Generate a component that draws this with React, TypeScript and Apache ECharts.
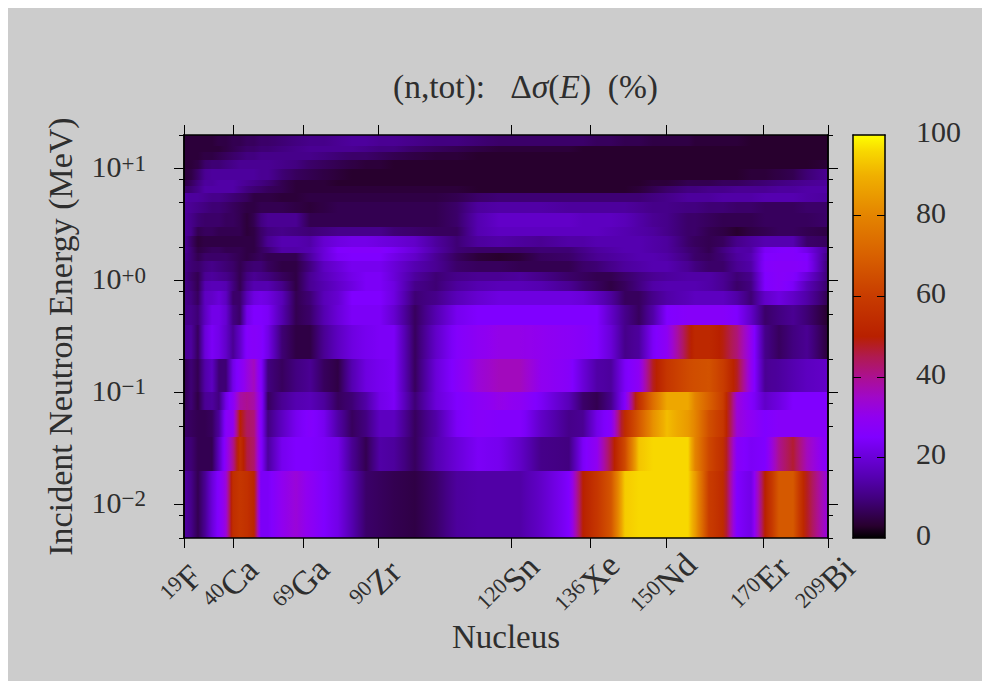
import React, { useEffect, useRef } from "react";
import * as echarts from "echarts";

const FONT = "'Liberation Serif', serif";
const INK = "#2e2e2e";

const energyEdges = [0.005, 0.02, 0.04, 0.07, 0.1, 0.2, 0.4, 0.6, 0.8, 1, 1.2, 1.5, 1.75, 2, 2.5, 3, 4, 5, 6, 7, 8, 10, 12, 14, 16, 20];
const nucleusIndex = [0, 1, 2, 3, 4, 5, 6, 7, 8, 9, 10, 11, 12, 14, 16, 18, 20, 22, 24, 26, 28, 30, 33, 36, 39, 42, 45, 48, 51, 55, 57, 59, 61, 63, 65, 67, 69, 72, 73, 75, 77, 79, 81, 83, 85, 87, 89, 92];
const nucleusTicks = [0, 7, 17.1, 27.7, 46.7, 58, 68.9, 82.7, 92];
const nucleusMass = ["19", "40", "69", "90", "120", "136", "150", "170", "209"];
const nucleusSymbol = ["F", "Ca", "Ga", "Zr", "Sn", "Xe", "Nd", "Er", "Bi"];
const energyMajor = [0.01, 0.1, 1, 10];
const energyMajorText = ["−2", "−1", "+0", "+1"];
const energyMinor = [0.005, 0.008, 0.02, 0.05, 0.08, 0.2, 0.5, 0.8, 2, 5, 8, 20];
const colorbarTicks = [0, 20, 40, 60, 80, 100];

const paletteValues = [0, 3, 10, 15, 20, 25, 30, 35, 40, 45, 50, 60, 70, 80, 90, 96, 100];
const paletteColors = ["#000000", "#28002e", "#420080", "#5500b0", "#6a00d8", "#8000ff", "#9000f0", "#a008c8", "#ac1090", "#b01a50", "#b82000", "#c83c00", "#d86000", "#e48400", "#f0b000", "#f8d800", "#ffff00"];

// rows from the lowest energy band to the highest
const dsigma = [
  [14,11,6,12,20,26,33,55,58,56,52,24,24,30,33,29,25,22,15,8,7,6,5,8,13,14,14, 14,18,25,50,58,67,94,96,96,96,96,86,60,54,25,22,50,68,68,48,32],
  [10,9,6,6,6,17,29,40,55,46,43,26,13,23,25,25,24,22,12,6,14,13,7,15,20,24,23, 18,11,10,24,30,46,64,93,96,96,96,80,63,55,27,24,25,40,47,36,26],
  [8,7,6,6,7,13,27,30,50,44,42,26,10,17,23,26,23,14,7,10,17,17,7,14,24,27,26, 26,18,11,12,22,27,54,68,83,92,85,80,65,58,33,29,25,27,27,27,27],
  [6,9,5,12,13,10,22,28,38,40,38,28,7,12,15,16,13,7,9,14,22,24,9,20,25,28,31, 29,24,16,8,6,11,26,56,74,88,88,80,70,60,33,26,18,21,25,25,25],
  [6,9,6,14,17,9,9,22,27,32,36,26,10,7,10,12,7,5,15,21,23,24,7,20,27,33,36, 36,30,27,20,14,13,24,29,48,58,64,65,66,60,48,30,12,13,15,17,18],
  [12,13,7,20,24,22,18,12,18,26,27,26,22,9,5,5,12,17,21,23,24,24,7,18,26,29,31, 31,30,28,27,25,20,11,13,24,29,48,53,53,49,42,30,11,7,10,12,4],
  [11,11,9,17,22,22,19,10,8,22,25,25,24,15,6,8,15,20,24,24,24,19,7,15,23,25,25, 25,25,25,25,25,18,11,7,14,25,27,27,27,27,25,18,8,10,12,9,3],
  [11,10,7,17,18,20,17,8,8,16,21,22,21,16,6,9,16,19,25,25,25,21,9,11,16,19,21, 21,21,21,20,17,13,7,7,11,14,16,17,17,17,14,9,18,21,18,14,6],
  [11,9,6,15,16,16,15,10,6,12,15,15,15,11,5,12,15,18,21,24,24,21,11,9,13,15,16, 16,15,12,9,7,5,7,10,14,15,15,15,14,12,8,10,25,27,24,16,8],
  [11,8,6,12,13,12,11,9,6,10,12,11,10,7,5,12,16,19,22,24,24,20,13,9,11,12,12, 13,11,8,7,6,6,8,10,12,13,14,14,14,12,9,11,25,27,26,20,9],
  [11,9,8,10,11,10,9,8,6,8,9,9,7,5,5,10,17,20,23,23,23,20,15,12,8,7,7, 6,6,6,8,9,11,13,14,15,15,12,10,8,8,12,14,26,27,27,26,9],
  [12,9,6,8,8,8,8,7,6,5,6,7,6,6,6,13,20,24,25,25,25,22,18,12,7,4,3, 4,7,8,10,12,13,14,15,15,14,10,8,7,9,13,15,25,26,26,25,10],
  [13,9,5,6,7,7,6,6,6,5,5,7,9,14,14,15,20,25,26,26,26,24,20,14,9,8,8, 8,9,9,11,13,14,15,15,14,13,9,8,6,10,14,14,24,25,26,22,12],
  [13,8,4,5,5,5,5,5,5,5,5,8,12,15,15,14,19,21,22,22,21,20,18,13,9,13,14, 13,12,14,14,15,15,15,15,14,13,8,7,6,7,11,13,15,15,15,8,7],
  [13,11,6,7,7,6,6,6,6,4,5,8,10,11,10,9,10,11,11,11,11,9,8,7,7,15,17, 17,17,17,17,17,16,15,14,13,11,8,8,6,5,3,5,6,7,7,6,5],
  [13,11,9,8,8,8,7,7,6,4,6,10,12,12,12,6,6,6,6,6,6,6,6,6,8,15,18, 18,18,18,17,17,17,16,14,12,11,8,8,7,6,6,6,7,7,7,7,8],
  [13,12,11,10,9,9,8,7,6,5,5,6,6,6,5,4,5,6,6,6,6,6,6,6,8,13,14, 14,14,13,13,13,13,13,12,11,11,10,10,9,9,8,8,7,7,7,8,8],
  [14,13,13,12,11,11,10,9,8,7,5,5,5,4,4,5,5,5,5,5,5,5,5,5,6,8,9, 9,9,9,9,9,9,9,9,10,11,13,13,13,14,14,14,15,15,15,14,13],
  [8,9,11,14,14,14,14,14,12,10,9,8,7,6,4,4,4,4,4,4,4,4,4,4,4,3,3, 3,3,3,3,3,3,3,4,6,8,10,10,11,11,12,12,12,13,13,14,14],
  [5,7,10,13,13,14,14,14,13,12,11,10,9,6,4,4,4,3,3,3,3,3,3,3,3,3,3, 3,3,3,3,3,3,3,3,4,4,6,6,6,7,7,8,9,10,11,12,13],
  [4,5,8,12,13,13,13,13,13,13,13,12,12,9,7,6,5,4,3,3,3,3,3,3,3,3,3, 3,3,3,3,3,3,3,3,3,3,3,3,3,3,3,4,4,5,6,9,12],
  [4,4,5,8,9,9,10,11,12,12,12,12,12,11,10,8,7,6,5,4,4,3,3,3,3,3,3, 3,3,3,3,3,3,3,3,3,3,3,3,3,3,3,3,3,3,3,3,4],
  [4,4,4,5,5,6,7,8,9,10,10,11,11,11,11,11,10,9,8,8,7,6,5,4,4,3,3, 3,3,3,3,3,3,3,3,3,3,3,3,3,3,3,3,3,3,3,3,3],
  [4,4,4,4,4,4,5,6,7,8,8,9,9,10,11,12,12,12,12,11,10,10,8,7,6,5,4, 4,4,4,3,3,3,3,3,3,3,3,3,3,3,3,3,3,3,3,3,3],
  [4,4,4,4,4,5,5,6,6,7,7,8,8,9,10,11,11,12,13,13,12,12,11,10,10,9,8, 8,8,8,8,7,7,6,6,5,5,5,4,4,4,4,3,3,3,3,3,3],
];

function hexToRgb(h: string) {
  return [1, 3, 5].map((i) => parseInt(h.slice(i, i + 2), 16));
}
function colorOf(v: number) {
  const n = paletteValues.length;
  if (v <= paletteValues[0]) return paletteColors[0];
  for (let i = 1; i < n; i++) {
    if (v <= paletteValues[i]) {
      const t = (v - paletteValues[i - 1]) / (paletteValues[i] - paletteValues[i - 1]);
      const a = hexToRgb(paletteColors[i - 1]);
      const b = hexToRgb(paletteColors[i]);
      return `rgb(${a.map((c, k) => Math.round(c + (b[k] - c) * t)).join(",")})`;
    }
  }
  return paletteColors[n - 1];
}

const xMax = nucleusIndex[nucleusIndex.length - 1];

function rowStops(row: number[]) {
  const stops: { offset: number; color: string }[] = [];
  for (let i = 0; i < row.length - 1; i++) {
    for (let k = 0; k < 4; k++) {
      const f = k / 4;
      stops.push({
        offset: (nucleusIndex[i] + (nucleusIndex[i + 1] - nucleusIndex[i]) * f) / xMax,
        color: colorOf(row[i] + (row[i + 1] - row[i]) * f),
      });
    }
  }
  stops.push({ offset: 1, color: colorOf(row[row.length - 1]) });
  return stops;
}

const tickStyle = { lineStyle: { color: "#000", width: 1 } };
const lineStyle = { show: true, onZero: false, lineStyle: { color: "#000", width: 1.5 } };

export default function App() {
  const ref = useRef<HTMLDivElement>(null);
  useEffect(() => {
    const chart = echarts.init(ref.current!, undefined, { renderer: "svg" });
    const grid = { left: 176, top: 127, width: 644, height: 403 };
    const cbGrid = { left: 845, top: 127, width: 32, height: 403 };
    const yLog = { type: "log", logBase: 10, min: 0.005, max: 20, gridIndex: 0, splitLine: { show: false }, minorTick: { show: false }, axisLine: lineStyle, z: 5 };
    const xBase = { type: "value", min: 0, max: xMax, gridIndex: 0, splitLine: { show: false }, axisLine: lineStyle, z: 5 };
    chart.setOption({
      animation: false,
      backgroundColor: "#cccccc",
      title: {
        text: "(n,tot):   Δ{i|σ}({i|E})  (%)",
        left: 380,
        top: 56,
        textStyle: {
          fontFamily: FONT,
          fontSize: 33.5,
          fontWeight: "normal",
          color: INK,
          rich: { i: { fontFamily: FONT, fontSize: 33.5, fontStyle: "italic", color: INK } },
        },
      },
      grid: [grid, cbGrid],
      xAxis: [
        {
          ...xBase,
          position: "bottom",
          name: "Nucleus",
          nameLocation: "middle",
          nameMoveOverlap: false,
          nameGap: 82,
          nameTextStyle: { fontFamily: FONT, fontSize: 33, color: INK },
          axisTick: { show: true, length: 10, customValues: nucleusTicks, ...tickStyle },
          axisLabel: {
            show: true,
            rotate: 45,
            margin: 45,
            align: "center",
            verticalAlign: "middle",
            customValues: nucleusTicks,
            formatter: (v: number) => {
              const i = nucleusTicks.indexOf(v);
              return `{s|${nucleusMass[i]}}{m|${nucleusSymbol[i]}}`;
            },
            rich: {
              s: { fontFamily: FONT, fontSize: 22, color: INK, verticalAlign: "top", padding: [0, 0, 0, 0] },
              m: { fontFamily: FONT, fontSize: 34, color: INK, padding: [0, 6, 0, 0] },
            },
          },
        },
        {
          ...xBase,
          position: "top",
          axisTick: { show: true, length: 10, customValues: nucleusTicks, ...tickStyle },
          axisLabel: { show: false },
        },
        { type: "value", min: 0, max: 1, gridIndex: 1, position: "bottom", splitLine: { show: false }, axisLine: lineStyle, axisTick: { show: false }, axisLabel: { show: false }, z: 5 },
        { type: "value", min: 0, max: 1, gridIndex: 1, position: "top", splitLine: { show: false }, axisLine: lineStyle, axisTick: { show: false }, axisLabel: { show: false }, z: 5 },
      ],
      yAxis: [
        {
          ...yLog,
          position: "left",
          name: "Incident Neutron Energy (MeV)",
          nameLocation: "middle",
          nameMoveOverlap: false,
          nameGap: 107,
          nameTextStyle: { fontFamily: FONT, fontSize: 34, color: INK },
          axisTick: { show: true, length: 10, customValues: energyMajor, ...tickStyle },
          axisLabel: {
            show: true,
            margin: 38,
            customValues: energyMajor,
            formatter: (v: number) => {
              const i = energyMajor.findIndex((e) => Math.abs(Math.log10(e) - Math.log10(v)) < 1e-6);
              return `{m|10}{s|${energyMajorText[i]}}`;
            },
            rich: {
              m: { fontFamily: FONT, fontSize: 30, color: INK, verticalAlign: "bottom", padding: [0, 0, 4, 0] },
              s: { fontFamily: FONT, fontSize: 23, color: INK, verticalAlign: "top" },
            },
          },
        },
        { ...yLog, position: "left", axisTick: { show: true, length: 5, customValues: energyMinor, ...tickStyle }, axisLabel: { show: false } },
        { ...yLog, position: "right", axisTick: { show: true, length: 10, customValues: energyMajor, ...tickStyle }, axisLabel: { show: false } },
        { ...yLog, position: "right", axisTick: { show: true, length: 5, customValues: energyMinor, ...tickStyle }, axisLabel: { show: false } },
        { type: "value", min: 0, max: 100, gridIndex: 1, position: "left", splitLine: { show: false }, axisLine: lineStyle, axisTick: { show: true, inside: true, length: 8, customValues: colorbarTicks.slice(1, -1), ...tickStyle }, axisLabel: { show: false }, z: 5 },
        {
          type: "value",
          min: 0,
          max: 100,
          interval: 20,
          gridIndex: 1,
          position: "right",
          splitLine: { show: false },
          axisLine: lineStyle,
          axisTick: { show: true, inside: true, length: 8, customValues: colorbarTicks.slice(1, -1), ...tickStyle },
          axisLabel: {
            show: true,
            margin: 31,
            customValues: colorbarTicks,
            showMinLabel: true,
            showMaxLabel: true,
            formatter: (v: number) => `{n|${v}}`,
            rich: { n: { fontFamily: FONT, fontSize: 30, color: INK, padding: [0, 0, 7, 0] } },
          },
          z: 5,
        },
      ],
      series: [
        {
          type: "custom",
          xAxisIndex: 0,
          yAxisIndex: 0,
          clip: false,
          encode: { x: 2, y: [0, 1] },
          data: dsigma.map((_, i) => [energyEdges[i], energyEdges[i + 1], i]),
          renderItem: (_p: any, api: any) => {
            const a = api.coord([0, api.value(0)]);
            const b = api.coord([xMax, api.value(1)]);
            const top = Math.round(b[1]);
            const bottom = Math.round(a[1]);
            return {
              type: "rect",
              shape: { x: a[0], y: top, width: b[0] - a[0], height: bottom - top },
              style: { fill: new echarts.graphic.LinearGradient(0, 0, 1, 0, rowStops(dsigma[api.value(2)])) },
            };
          },
        },
        {
          type: "custom",
          xAxisIndex: 2,
          yAxisIndex: 4,
          clip: false,
          encode: { x: -1, y: [0, 1] },
          data: [[0, 100]],
          renderItem: (_p: any, api: any) => {
            const a = api.coord([0, api.value(0)]);
            const b = api.coord([1, api.value(1)]);
            const stops = paletteValues.map((v, i) => ({ offset: 1 - v / 100, color: paletteColors[i] })).reverse();
            return {
              type: "rect",
              shape: { x: a[0], y: b[1], width: b[0] - a[0], height: a[1] - b[1] },
              style: { fill: new echarts.graphic.LinearGradient(0, 0, 0, 1, stops) },
            };
          },
        },
      ],
    });
    return () => chart.dispose();
  }, []);
  return <div ref={ref} style={{ width: 974, height: 673 }} />;
}
